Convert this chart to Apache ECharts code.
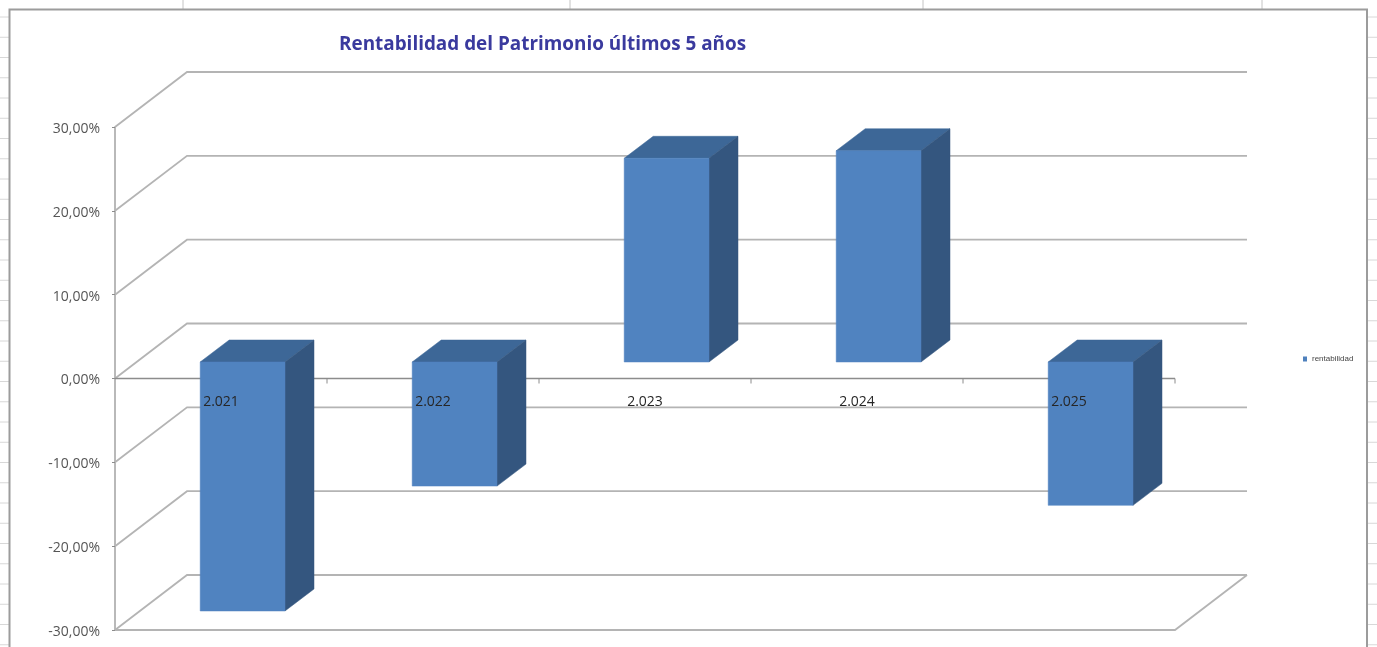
<!DOCTYPE html>
<html>
<head>
<meta charset="utf-8">
<style>html,body{margin:0;padding:0;background:#fff;overflow:hidden}#c{width:1377px;height:647px;filter:blur(0.6px)}</style>
<script src="https://cdn.jsdelivr.net/npm/echarts@6/dist/echarts.min.js"></script>
</head>
<body>
<div id="c"></div>
<script>
const categories = ['2.021', '2.022', '2.023', '2.024', '2.025'];
const rentabilidad = [-29.7, -14.8, 24.3, 25.2, -17.1];
const yTicks = [30, 20, 10, 0, -10, -20, -30];
const seriesName = 'rentabilidad';
const titleText = 'Rentabilidad del Patrimonio últimos 5 años';

const wallDx = 72, wallDy = -55;
const barDx = 21.6, barDy = -16.5, barDepthX = 29, barDepthY = -22;
const gridCol = '#b4b4b4', sheetCol = '#d8d8d8', frameCol = '#9c9c9c', axisCol = '#8c8c8c';

const chart = echarts.init(document.getElementById('c'), null, {renderer: 'canvas'});

const deco = [];
for (let y = 17; y < 647; y += 20.25) {
  deco.push({type: 'line', silent: true, z: -10, shape: {x1: 0, y1: y, x2: 9, y2: y}, style: {stroke: sheetCol, lineWidth: 1}});
  deco.push({type: 'line', silent: true, z: -10, shape: {x1: 1367, y1: y, x2: 1377, y2: y}, style: {stroke: sheetCol, lineWidth: 1}});
}
[183, 570, 923, 1262].forEach(x => deco.push({type: 'line', silent: true, z: -10, shape: {x1: x, y1: 0, x2: x, y2: 9}, style: {stroke: '#c4c4c4', lineWidth: 1}}));
deco.push({type: 'polyline', silent: true, z: -9, shape: {points: [[9.5, 647], [9.5, 9.5], [1367, 9.5], [1367, 647]]}, style: {stroke: frameCol, fill: null, lineWidth: 2}});

function renderWall(params, api) {
  const cs = params.coordSys;
  const v = api.value(0);
  const y = api.coord([0, v])[1], x0 = cs.x, x1 = cs.x + cs.width;
  const children = [{
    type: 'polyline',
    shape: {points: [[x0, y], [x0 + wallDx, y + wallDy], [x1 + wallDx, y + wallDy]]},
    style: {stroke: gridCol, fill: null, lineWidth: 1.8}
  }];
  if (v === yTicks[yTicks.length - 1]) {
    children.push({
      type: 'polyline',
      shape: {points: [[x0, y], [x1, y], [x1 + wallDx, y + wallDy]]},
      style: {stroke: gridCol, fill: null, lineWidth: 1.8}
    });
  }
  if (v === 0) {
    children.push({type: 'line', shape: {x1: x0, y1: y, x2: x1, y2: y}, style: {stroke: axisCol, lineWidth: 1.6}});
    const step = cs.width / categories.length;
    categories.forEach((c, i) => {
      const tx = x0 + step * (i + 1);
      children.push({type: 'line', shape: {x1: tx, y1: y, x2: tx, y2: y + 5}, style: {stroke: axisCol, lineWidth: 1}});
    });
  }
  return {type: 'group', children};
}

function renderBar(params, api) {
  const i = api.value(0), v = api.value(1);
  const w = api.size([1, 0])[0] * 0.4;
  const zero = api.coord([i, 0]), end = api.coord([i, v]);
  const xl = zero[0] - w / 2 + barDx, xr = xl + w;
  const yTop = Math.min(zero[1], end[1]) + barDy, yBot = Math.max(zero[1], end[1]) + barDy;
  const poly = (points, fill) => ({type: 'polygon', shape: {points}, style: {fill, stroke: fill, lineWidth: 0.5}});
  return {type: 'group', children: [
    poly([[xl, yTop], [xr, yTop], [xr + barDepthX, yTop + barDepthY], [xl + barDepthX, yTop + barDepthY]], '#3d6797'),
    poly([[xr, yTop], [xr + barDepthX, yTop + barDepthY], [xr + barDepthX, yBot + barDepthY], [xr, yBot]], '#34567f'),
    poly([[xl, yTop], [xr, yTop], [xr, yBot], [xl, yBot]], '#5083c0')
  ]};
}

chart.setOption({
  animation: false,
  backgroundColor: '#fff',
  graphic: deco,
  title: {
    text: titleText, left: 334, top: 30,
    textStyle: {color: '#3a3a9e', fontSize: 18.9, fontWeight: 'bold', fontFamily: 'Open Sans'}
  },
  legend: {
    data: [{name: seriesName, icon: 'rect'}],
    left: 1298, top: 350, itemWidth: 4, itemHeight: 5, itemGap: 1,
    textStyle: {fontSize: 8, color: '#444', fontFamily: 'Liberation Sans'}
  },
  grid: {left: 115, right: 202, top: 127, bottom: 17, containLabel: false, outerBoundsMode: 'none'},
  xAxis: {
    type: 'category', data: categories, position: 'bottom', z: 20,
    axisLine: {show: false},
    axisTick: {show: false},
    axisLabel: {show: true, margin: 17, fontSize: 14, color: '#262626', fontFamily: 'Open Sans'},
    offset: -251.5
  },
  yAxis: {
    type: 'value', min: -30, max: 30, interval: 10,
    axisLine: {show: true, onZero: false, lineStyle: {color: '#a8a8a8', width: 1.6}},
    axisTick: {show: true, length: 3, lineStyle: {color: '#8c8c8c'}},
    splitLine: {show: false},
    axisLabel: {
      margin: 15, fontSize: 14, color: '#555', fontFamily: 'Open Sans',
      formatter: v => '{a|' + v.toFixed(2).replace('.', ',') + '%}',
      rich: {a: {fontSize: 14, color: '#555', fontFamily: 'Open Sans', padding: [4, 0, 0, 0]}}
    }
  },
  series: [{
    name: 'paredes', type: 'custom', z: 1, silent: true, clip: false,
    data: yTicks.map(v => [v]), encode: {y: 0},
    renderItem: renderWall
  }, {
    name: seriesName, type: 'custom', z: 3, clip: false,
    itemStyle: {color: '#4f81bd'},
    data: rentabilidad.map((v, i) => [i, v]), encode: {x: 0, y: 1},
    renderItem: renderBar
  }]
});
</script>
</body>
</html>
